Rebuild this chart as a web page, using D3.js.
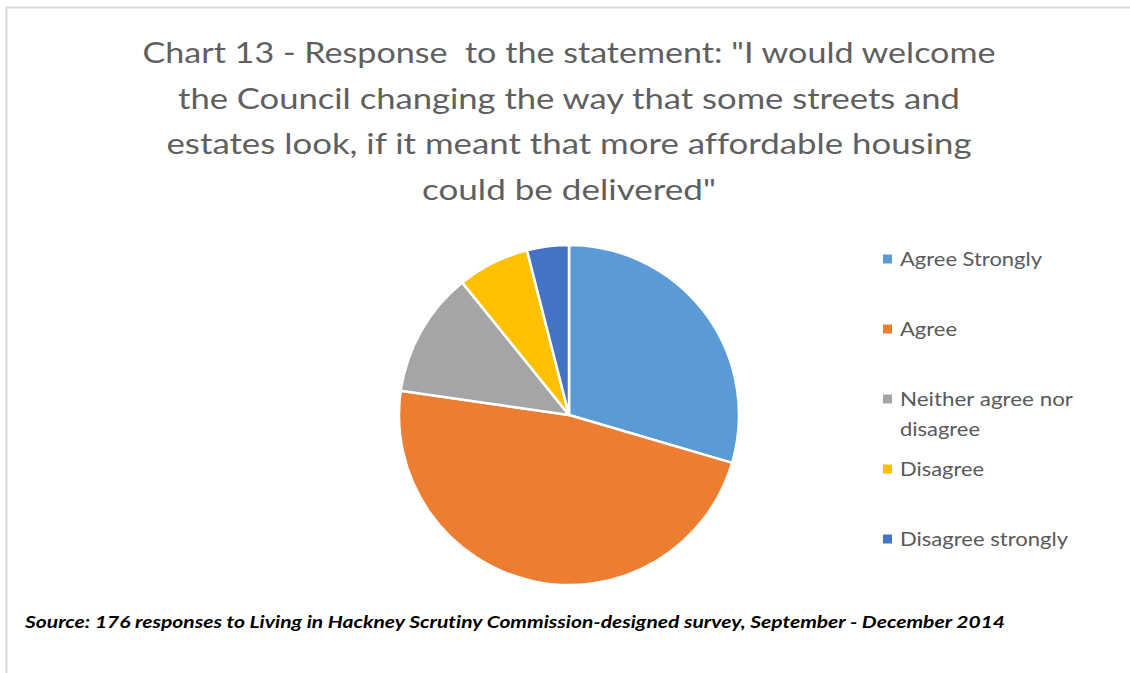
<!DOCTYPE html>
<html>
<head>
<meta charset="utf-8">
<script src="https://cdn.jsdelivr.net/npm/d3@7"></script>
<style>
  html, body { margin: 0; padding: 0; background: #fff; }
  svg { display: block; }
  text { font-variant-ligatures: none; font-feature-settings: "liga" 0; }
</style>
</head>
<body>
<svg id="chart" width="1130" height="673"></svg>
<script>
// Survey responses (count of 176)
const categories = ["Agree Strongly", "Agree", "Neither agree nor disagree", "Disagree", "Disagree strongly"];
const responses = [52, 84, 21, 12, 7];
const colors = ["#5B9BD5", "#ED7D31", "#A5A5A5", "#FFC000", "#4472C4"];

const titleLines = [
  "Chart 13 - Response  to the statement: \"I would welcome",
  "the Council changing the way that some streets and",
  "estates look, if it meant that more affordable housing",
  "could be delivered\""
];
const legendLines = [
  ["Agree Strongly"],
  ["Agree"],
  ["Neither agree nor", "disagree"],
  ["Disagree"],
  ["Disagree strongly"]
];
const sourceText = "Source: 176 responses to Living in Hackney Scrutiny Commission-designed survey, September - December 2014";

const svg = d3.select("#chart");
const font = "Lato, 'Open Sans', 'DejaVu Sans', sans-serif";

// chart-area frame (top and left edges visible)
svg.append("path")
  .attr("d", "M6.5,673 V7.5 H1130")
  .attr("fill", "none")
  .attr("stroke", "#d9d9d9")
  .attr("stroke-width", 2);

// title
const titleWidths = [853, 782, 805, 294];
const title = svg.append("g");
titleLines.forEach((t, i) => {
  title.append("text")
    .attr("x", 569)
    .attr("y", 63 + i * 45.6)
    .attr("text-anchor", "middle")
    .attr("xml:space", "preserve")
    .attr("font-family", font)
    .attr("font-size", 29)
    .attr("fill", "#5f5f5f")
    .attr("textLength", titleWidths[i])
    .attr("lengthAdjust", "spacingAndGlyphs")
    .text(t);
});

// pie
const cx = 569, cy = 415, r = 170;
const pie = d3.pie().sort(null).value(d => d.value);
const arc = d3.arc().innerRadius(0).outerRadius(r);
const data = categories.map((c, i) => ({ name: c, value: responses[i], color: colors[i] }));

svg.append("g")
  .attr("transform", `translate(${cx},${cy})`)
  .selectAll("path")
  .data(pie(data))
  .join("path")
  .attr("d", arc)
  .attr("fill", d => d.data.color)
  .attr("stroke", "#fff")
  .attr("stroke-width", 2.5)
  .attr("stroke-linejoin", "round");

// legend
const legendY = [259, 329, 399, 469, 539];
const legendWidths = [[142], [57], [173, 80], [84], [168]];
const legend = svg.append("g");
data.forEach((d, i) => {
  legend.append("rect")
    .attr("x", 883)
    .attr("y", legendY[i] - 4.5)
    .attr("width", 9)
    .attr("height", 9)
    .attr("fill", d.color);
  legendLines[i].forEach((line, j) => {
    legend.append("text")
      .attr("x", 900)
      .attr("y", legendY[i] + 7 + j * 30)
      .attr("font-family", font)
      .attr("font-size", 20)
      .attr("fill", "#595959")
      .attr("textLength", legendWidths[i][j])
      .attr("lengthAdjust", "spacingAndGlyphs")
      .text(line);
  });
});

// source note
svg.append("text")
  .attr("x", 25)
  .attr("y", 628)
  .attr("font-family", font)
  .attr("font-size", 17)
  .attr("font-weight", "bold")
  .attr("font-style", "italic")
  .attr("fill", "#000")
  .attr("textLength", 980)
  .attr("lengthAdjust", "spacingAndGlyphs")
  .text(sourceText);
</script>
</body>
</html>
